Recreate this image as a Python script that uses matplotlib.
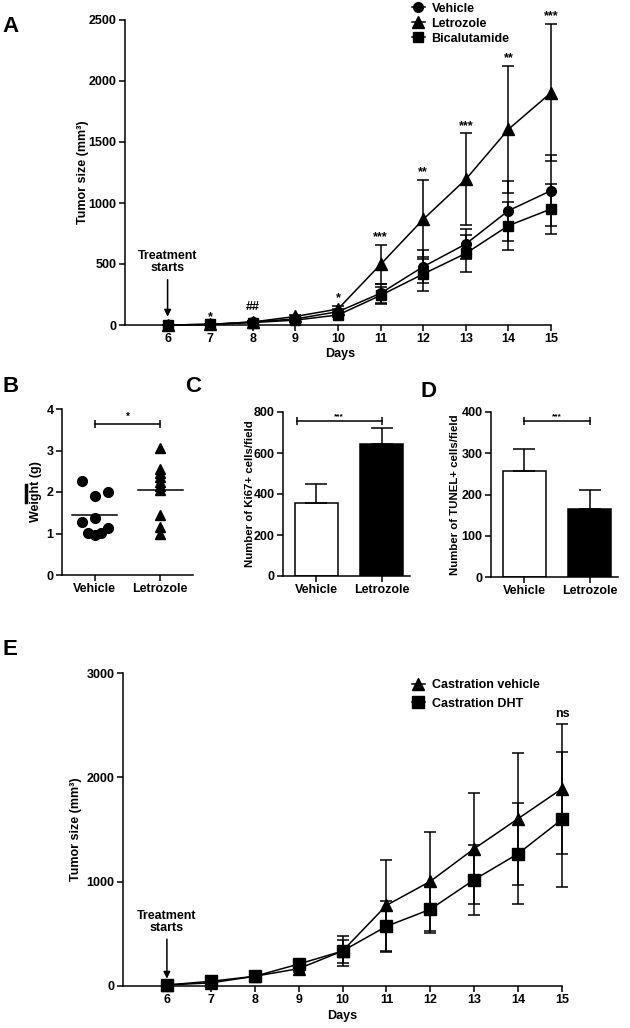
import matplotlib
matplotlib.use("Agg")
import matplotlib.pyplot as plt
from matplotlib.lines import Line2D

plt.rcParams['font.family'] = ['Liberation Sans', 'DejaVu Sans']
plt.rcParams['font.weight'] = 'bold'
plt.rcParams['axes.labelweight'] = 'bold'
plt.rcParams['axes.linewidth'] = 1.1

# ---- panel A: tumor growth ----
days = [6, 7, 8, 9, 10, 11, 12, 13, 14, 15]
vehicle = [0, 5, 25, 50, 109, 260, 478, 664, 937, 1101]
vehicle_err = [0, 2, 5, 10, 20, 80, 137, 120, 246, 290]
letrozole = [0, 5, 25, 70, 131, 497, 866, 1194, 1604, 1904]
letrozole_err = [0, 2, 5, 15, 25, 159, 323, 377, 519, 563]
bical = [0, 5, 20, 40, 82, 243, 418, 587, 814, 951]
bical_err = [0, 2, 5, 8, 15, 70, 142, 151, 197, 205]
sig_days = [7, 8, 10, 11, 12, 13, 14, 15]
sig_marks = ['*', '##', '*', '***', '**', '***', '**', '***']

# ---- panel B: weight ----
weight_vehicle = [2.27, 1.90, 2.00, 1.37, 1.28, 1.13, 1.01, 0.96, 1.01]
weight_letrozole = [3.06, 2.55, 2.45, 2.35, 2.25, 2.15, 2.05, 1.45, 1.15, 1.00]

# ---- panels C, D: bars ----
groups = ['Vehicle', 'Letrozole']
ki67 = [355, 643]
ki67_err = [93, 80]
tunel = [257, 164]
tunel_err = [54, 48]

# ---- panel E: castration ----
cast_vehicle = [10, 30, 93, 166, 335, 773, 1003, 1316, 1604, 1891]
cast_vehicle_err = [0, 5, 15, 30, 110, 438, 473, 534, 632, 623]
cast_dht = [10, 45, 93, 210, 335, 572, 735, 1019, 1268, 1597]
cast_dht_err = [0, 5, 15, 30, 140, 246, 224, 336, 486, 646]

W, H = 630, 1028
fig = plt.figure(figsize=(W / 100, H / 100), dpi=100)


def box(l, r, t, b):
    return [l / W, 1 - b / H, (r - l) / W, (b - t) / H]


def style(ax, fs=9):
    for s in ['top', 'right']:
        ax.spines[s].set_visible(False)
    ax.tick_params(direction='out', length=4, width=1.1, labelsize=fs, pad=2)
    for lab in ax.get_xticklabels() + ax.get_yticklabels():
        lab.set_fontweight('bold')


def noclip(container):
    for art in container.get_children():
        art.set_clip_on(False)


ms = 7
ebkw = dict(color='k', lw=1.1, elinewidth=1.1, capsize=4, capthick=1.1)

# Panel A
axA = fig.add_axes(box(125, 551, 20, 325))
hv = axA.errorbar(days, vehicle, yerr=vehicle_err, marker='o', ms=ms, **ebkw)
hl = axA.errorbar(days, letrozole, yerr=letrozole_err, marker='^', ms=ms + 1, **ebkw)
hb = axA.errorbar(days, bical, yerr=bical_err, marker='s', ms=ms, **ebkw)
for c in (hv, hl, hb):
    noclip(c)
axA.set_xlim(5, 15)
axA.set_ylim(0, 2500)
axA.set_xticks(days)
axA.set_yticks([0, 500, 1000, 1500, 2000, 2500])
axA.set_ylabel('Tumor size (mm³)', fontsize=9)
axA.yaxis.set_label_coords(-0.085, 0.5)
axA.set_xlabel('Days', fontsize=9)
axA.xaxis.set_label_coords(0.505, -0.075)
style(axA)
for d, m in zip(sig_days, sig_marks):
    i = days.index(d)
    top = letrozole[i] + letrozole_err[i]
    off = 6 if m == '##' else 1
    axA.annotate(m, xy=(d, top), xytext=(0, off), textcoords='offset points',
                 ha='center', va='bottom', fontsize=9)
axA.annotate('Treatment\nstarts', xy=(6, 68), xytext=(6, 515), ha='center', va='center',
             fontsize=9, linespacing=1.0,
             arrowprops=dict(arrowstyle='-|>', color='k', lw=1.1, mutation_scale=10, shrinkA=2, shrinkB=0))
axA.legend([hv[0], hl[0], hb[0]], ['Vehicle', 'Letrozole', 'Bicalutamide'],
           loc='upper left', bbox_to_anchor=(404 / W, 1 + 5 / H), bbox_transform=fig.transFigure,
           frameon=False, handlelength=1.1, handletextpad=0.5, labelspacing=0.25,
           borderpad=0.1, prop={'weight': 'bold', 'size': 9})

# Panel B
axB = fig.add_axes(box(62, 193, 409, 575))
off_v = [-0.2, 0.0, 0.2, 0.0, -0.2, 0.2, -0.1, 0.0, 0.1]
axB.plot([0 + o for o in off_v], weight_vehicle, 'o', color='k', ms=7, ls='none', clip_on=False)
axB.plot([1] * len(weight_letrozole), weight_letrozole, '^', color='k', ms=7, ls='none', clip_on=False)
for x, vals in [(0, weight_vehicle), (1, weight_letrozole)]:
    mean = sum(vals) / len(vals)
    axB.plot([x - 0.34, x + 0.34], [mean, mean], color='k', lw=1.1)
axB.set_xlim(-0.5, 1.5)
axB.set_ylim(0, 4)
axB.set_xticks([0, 1])
axB.set_xticklabels(groups)
axB.set_yticks([0, 1, 2, 3, 4])
axB.set_ylabel('Weight (g)', fontsize=9)
axB.yaxis.set_label_coords(-0.15, 0.5)
style(axB)
axB.plot([0, 1], [3.64, 3.64], color='k', lw=1.1)
axB.plot([0, 1], [3.64, 3.64], 'k|', ms=6, mew=1.1)
axB.text(0.5, 3.7, '*', ha='center', va='bottom', fontsize=7)

# Panel C
axC = fig.add_axes(box(283, 410, 412, 576))
axC.bar([0, 1], ki67, width=0.66, color=['white', 'black'], edgecolor='k', linewidth=1.1,
        yerr=[[0, 0], ki67_err], capsize=8, error_kw=dict(elinewidth=1.1, capthick=1.1))
axC.set_xlim(-0.51, 1.43)
axC.set_ylim(0, 800)
axC.set_xticks([0, 1])
axC.set_xticklabels(groups)
axC.set_yticks([0, 200, 400, 600, 800])
axC.set_ylabel('Number of Ki67+ cells/field', fontsize=8.2)
axC.yaxis.set_label_coords(-0.22, 0.5)
style(axC)
axC.plot([-0.3, 1.0], [754, 754], color='k', lw=1.1)
axC.plot([-0.3, 1.0], [754, 754], 'k|', ms=6, mew=1.1)
axC.text(0.35, 760, '***', ha='center', va='bottom', fontsize=6)

# Panel D
axD = fig.add_axes(box(491, 618, 412, 577))
axD.bar([0, 1], tunel, width=0.66, color=['white', 'black'], edgecolor='k', linewidth=1.1,
        yerr=[[0, 0], tunel_err], capsize=8, error_kw=dict(elinewidth=1.1, capthick=1.1))
axD.set_xlim(-0.51, 1.43)
axD.set_ylim(0, 400)
axD.set_xticks([0, 1])
axD.set_xticklabels(groups)
axD.set_yticks([0, 100, 200, 300, 400])
axD.set_ylabel('Number of TUNEL+ cells/field', fontsize=8.2)
axD.yaxis.set_label_coords(-0.245, 0.5)
style(axD)
axD.plot([0, 1], [377, 377], color='k', lw=1.1)
axD.plot([0, 1], [377, 377], 'k|', ms=6, mew=1.1)
axD.text(0.5, 380, '***', ha='center', va='bottom', fontsize=6)

# Panel E
axE = fig.add_axes(box(123, 562, 673, 986))
he1 = axE.errorbar(days, cast_vehicle, yerr=cast_vehicle_err, marker='^', ms=ms + 1, **ebkw)
he2 = axE.errorbar(days, cast_dht, yerr=cast_dht_err, marker='s', ms=ms + 1, **ebkw)
for c in (he1, he2):
    noclip(c)
axE.set_xlim(5, 15)
axE.set_ylim(0, 3000)
axE.set_xticks(days)
axE.set_yticks([0, 1000, 2000, 3000])
axE.set_ylabel('Tumor size (mm³)', fontsize=9)
axE.yaxis.set_label_coords(-0.093, 0.5)
axE.set_xlabel('Days', fontsize=9)
axE.xaxis.set_label_coords(0.5, -0.078)
style(axE)
top15 = max(cast_vehicle[-1] + cast_vehicle_err[-1], cast_dht[-1] + cast_dht_err[-1])
axE.annotate('ns', xy=(15, top15), xytext=(0, 3), textcoords='offset points',
             ha='center', va='bottom', fontsize=9)
axE.annotate('Treatment\nstarts', xy=(6, 70), xytext=(6, 617), ha='center', va='center',
             fontsize=9, linespacing=1.0,
             arrowprops=dict(arrowstyle='-|>', color='k', lw=1.1, mutation_scale=10, shrinkA=2, shrinkB=0))
axE.legend([he1[0], he2[0]], ['Castration vehicle', 'Castration DHT'],
           loc='upper left', bbox_to_anchor=(404 / W, 1 - 672 / H), bbox_transform=fig.transFigure,
           frameon=False, handlelength=1.1, handletextpad=0.5, labelspacing=0.5,
           borderpad=0.1, prop={'weight': 'bold', 'size': 9})

# panel letters
for letter, x, y in [('A', 2, 32), ('B', 2, 392), ('C', 185, 392), ('D', 421, 397), ('E', 2, 655)]:
    fig.text(x / W, 1 - y / H, letter, fontsize=16, fontweight='bold', va='baseline', ha='left')

# small stray mark left of panel B
fig.add_artist(Line2D([26 / W, 26 / W], [1 - 485 / H, 1 - 502 / H], color='k', lw=2.5))

fig.savefig('out.png', dpi=100, facecolor='white')
